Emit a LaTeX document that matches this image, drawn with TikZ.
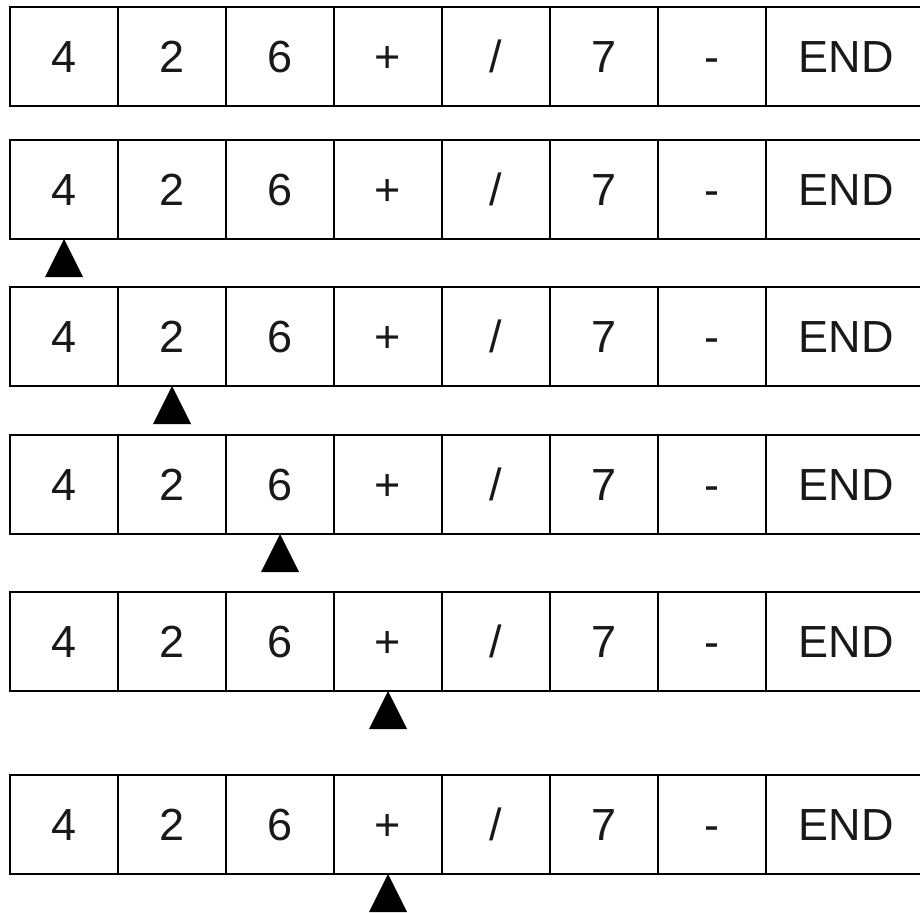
\documentclass[tikz,border=0pt]{standalone}
\usepackage{fontspec}
\setmainfont{Liberation Sans}
\usepackage{tikz}
\tikzset{
    tape/cell/.style={
        rectangle, draw=black, line width=2pt,
        minimum width=108pt, minimum height=99pt,
        inner sep=0pt, outer sep=0pt, anchor=north west,
        text=black!90, font=\fontsize{45}{54}\selectfont,
        text height=32pt, text depth=0pt
    },
    tape/end/.style={
        tape/cell, minimum width=160pt
    },
    tape/pointer/.style={
        fill=black
    }
}

\begin{document}
\begin{tikzpicture}[x=1pt,y=1pt]
    \useasboundingbox (0,0) rectangle (920,-912);
    \clip (0,0) rectangle (920,-912);

    % one tape per step
    \foreach \row/\top in {1/7, 2/140, 3/287, 4/435, 5/592, 6/775} {
        \foreach \sym [count=\col] in {4,2,6,+,/,7,-} {
            \node[tape/cell] (cell-\row-\col)
                at ({10+108*(\col-1)},-\top) {\sym};
        }
        \node[tape/end] (cell-\row-8) at (766,-\top) {END};
    }

    % read pointer
    \fill[tape/pointer] (cell-2-1.south) -- ++(-19,-38) -- ++(38,0) -- cycle;
    \fill[tape/pointer] (cell-3-2.south) -- ++(-19,-38) -- ++(38,0) -- cycle;
    \fill[tape/pointer] (cell-4-3.south) -- ++(-19,-38) -- ++(38,0) -- cycle;
    \fill[tape/pointer] (cell-5-4.south) -- ++(-19,-38) -- ++(38,0) -- cycle;
    \fill[tape/pointer] (cell-6-4.south) -- ++(-19,-38) -- ++(38,0) -- cycle;
\end{tikzpicture}
\end{document}
